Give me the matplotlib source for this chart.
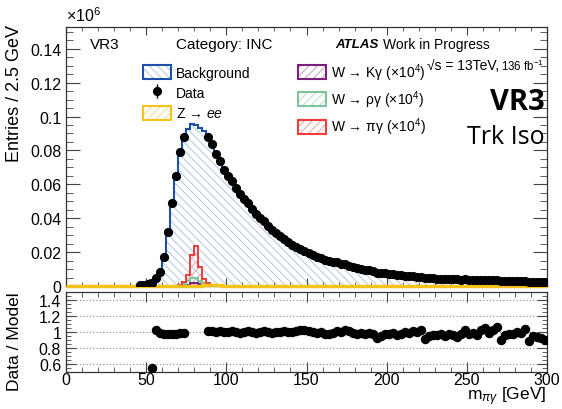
import numpy as np
import matplotlib
matplotlib.use('Agg')
import matplotlib.pyplot as plt
from matplotlib.patches import Patch
from matplotlib.ticker import MultipleLocator, FuncFormatter

plt.rcParams['font.family'] = ['Liberation Sans', 'DejaVu Sans']
plt.rcParams['mathtext.fontset'] = 'custom'
plt.rcParams['mathtext.rm'] = 'Liberation Sans'
plt.rcParams['mathtext.it'] = 'Liberation Sans:italic'
plt.rcParams['mathtext.bf'] = 'Liberation Sans:bold'
plt.rcParams['hatch.linewidth'] = 0.7

# ---------------- data (entries in units of 10^6) ----------------
bin_width = 2.5
x_min, x_max = 0.0, 300.0

model_first_centre = 53.75
background = [
    0.0033, 0.0046, 0.0081, 0.0175, 0.0330, 0.0502, 0.0663, 0.0798, 0.0889,
    0.0924, 0.0953, 0.0950, 0.0935, 0.0912,
    0.0868, 0.0827, 0.0781, 0.0730, 0.0686, 0.0648, 0.0612, 0.0578, 0.0546, 0.0514,
    0.0484, 0.0455, 0.0428, 0.0402, 0.0377, 0.0354, 0.0332, 0.0312, 0.0293, 0.0275,
    0.0258, 0.0243, 0.0229, 0.0214, 0.0203, 0.0193, 0.0184, 0.0175, 0.0167, 0.0159,
    0.0152, 0.0145, 0.0138, 0.0131, 0.0125, 0.0119, 0.0114, 0.0108, 0.0103, 0.0098,
    0.0094, 0.0089, 0.0085, 0.0081, 0.0077, 0.0073, 0.0070, 0.0067, 0.0064, 0.0061,
    0.0058, 0.0056, 0.0053, 0.0051, 0.0050, 0.0049, 0.0047, 0.0046, 0.0045, 0.0044,
    0.0043, 0.0042, 0.0041, 0.0039, 0.0038, 0.0037, 0.0036, 0.0036, 0.0035, 0.0034,
    0.0033, 0.0032, 0.0032, 0.0031, 0.0030, 0.0030, 0.0029, 0.0029, 0.0028, 0.0028,
    0.0027, 0.0027, 0.0026, 0.0026, 0.0025,
]
nan = float('nan')
data_over_model = [
    0.55, 1.03, 0.985, 0.98, 0.97, 0.975, 0.98, 0.99, 0.99,
    nan, nan, nan, nan, nan,
    1.01, 1.01, 1.00, 1.01, 1.00, 1.00, 1.01, 1.00, 0.99, 1.00,
    1.01, 1.00, 0.99, 1.00, 1.01, 1.00, 0.99, 1.00, 1.00, 1.01,
    1.00, 1.00, 1.01, 1.02, 1.03, 1.01, 1.00, 0.99, 1.00, 0.98,
    0.97, 0.99, 1.01, 1.00, 1.02, 1.01, 0.99, 0.98, 0.99, 0.97,
    0.99, 0.98, 0.93, 0.95, 0.98, 0.97, 0.99, 0.96, 0.98, 1.00,
    0.99, 1.01, 1.00, 1.03, 0.91, 0.95, 0.96, 0.96, 0.97, 0.95,
    0.97, 0.96, 0.94, 0.98, 1.02, 0.97, 0.99, 0.96, 1.02, 1.05,
    0.99, 1.03, 1.06, 0.90, 0.96, 0.98, 0.97, 1.00, 0.99, 1.04,
    0.89, 0.95, 0.94, 0.92, 0.90,
]
data_low_centres = [46.25, 48.75, 51.25]
data_low = [0.0003, 0.0006, 0.0010]

# signals (x10^4), in units of 10^6
wpi_centres = [71.25, 73.75, 76.25, 78.75, 81.25, 83.75, 86.25, 88.75, 91.25, 93.75]
wpi_values = [0.0008, 0.0022, 0.0062, 0.0180, 0.0238, 0.0115, 0.0042, 0.0016, 0.0008, 0.0004]
wrho_centres = [73.75, 76.25, 78.75, 81.25, 83.75, 86.25, 88.75, 91.25]
wrho_values = [0.0012, 0.0030, 0.0048, 0.0046, 0.0030, 0.0016, 0.0008, 0.0004]
wk_centres = [76.25, 78.75, 81.25, 83.75, 86.25]
wk_values = [0.0008, 0.0016, 0.0018, 0.0012, 0.0006]
zee_centres = [83.75, 86.25, 88.75, 91.25, 93.75, 96.25, 98.75]
zee_values = [0.0002, 0.0004, 0.0006, 0.0006, 0.0004, 0.0003, 0.0002]

# ---------------- binning ----------------
edges = np.arange(x_min, x_max + bin_width / 2, bin_width)
centres = edges[:-1] + bin_width / 2
nb = len(centres)

def to_bins(cs, vs):
    arr = np.zeros(nb)
    idx = np.round((np.asarray(cs) - bin_width / 2) / bin_width).astype(int)
    arr[idx] = vs
    return arr

i0 = int(round((model_first_centre - bin_width / 2) / bin_width))
bkg_full = np.zeros(nb)
bkg_full[i0:] = background
ratio_full = np.full(nb, np.nan)
ratio_full[i0:] = data_over_model
data_full = np.full(nb, np.nan)
data_full[i0:] = np.array(background) * np.array(data_over_model)
lo_idx = np.round((np.asarray(data_low_centres) - bin_width / 2) / bin_width).astype(int)
data_full[lo_idx] = data_low

wpi = to_bins(wpi_centres, wpi_values)
wrho = to_bins(wrho_centres, wrho_values)
wk = to_bins(wk_centres, wk_values)
zee = to_bins(zee_centres, zee_values)

# ---------------- styling ----------------
c_bkg_line = '#1c4fa8'
c_bkg_hatch = '#aec7e6'
c_zee = '#f7c21a'
c_zee_h = '#f9dc80'
c_wpi = '#f23a3a'
c_wpi_h = '#f7a0a0'
c_wrho = '#7cc49a'
c_wrho_h = '#b9e0c8'
c_wk = '#7a1f7e'
c_wk_h = '#c49ac6'
tick_col = '#444444'
bkg_hatch = '\\\\\\\\'
sig_hatch = '////'

W, H = 562, 410
fig = plt.figure(figsize=(W / 100, H / 100), dpi=100)

def fx(px):
    return px / W

def fy(py):
    return 1 - py / H

ax = fig.add_axes([fx(66), fy(287), (547 - 66) / W, (287 - 27.5) / H])
rax = fig.add_axes([fx(66), fy(373), (547 - 66) / W, (373 - 293) / H])

# background
ax.stairs(bkg_full, edges, fill=True, facecolor='none', edgecolor=c_bkg_hatch,
          hatch=bkg_hatch, linewidth=0, zorder=1)
ax.stairs(bkg_full, edges, color=c_bkg_line, linewidth=1.5, zorder=3)

# signals
for vals, lc, hc in [(wk, c_wk, c_wk_h), (wrho, c_wrho, c_wrho_h), (wpi, c_wpi, c_wpi_h)]:
    ax.stairs(vals, edges, fill=True, facecolor='none', edgecolor=hc,
              hatch=sig_hatch, linewidth=0, zorder=2)
    ax.stairs(vals, edges, color=lc, linewidth=1.4, zorder=4)
ax.stairs(zee, edges, color=c_zee, linewidth=2.5, zorder=4, baseline=None, clip_on=False)

# data
data_err = np.sqrt(np.nan_to_num(data_full) * 1e6) / 1e6
ok = ~np.isnan(data_full)
eb = ax.errorbar(centres[ok], data_full[ok], yerr=data_err[ok], fmt='o', color='black',
                 markersize=5.6, elinewidth=1.0, capsize=0, zorder=6)

ax.set_xlim(x_min, x_max)
ax.set_ylim(0, 0.1531)
ax.xaxis.set_major_locator(MultipleLocator(50))
ax.xaxis.set_minor_locator(MultipleLocator(10))
ax.yaxis.set_major_locator(MultipleLocator(0.02))
ax.yaxis.set_minor_locator(MultipleLocator(0.005))
ax.yaxis.set_major_formatter(FuncFormatter(lambda v, p: '%g' % round(v, 4)))
ax.tick_params(axis='both', which='both', direction='in', top=True, right=True,
               color=tick_col, labelsize=11.5)
ax.tick_params(axis='x', which='major', length=6, labelbottom=False)
ax.tick_params(axis='x', which='minor', length=3)
ax.tick_params(axis='y', which='major', length=10)
ax.tick_params(axis='y', which='minor', length=5)

# ratio panel
rax.plot(centres, ratio_full, 'o', color='black', markersize=5.8, zorder=5)
for g in [0.6, 0.8, 1.0, 1.2, 1.4]:
    rax.axhline(g, color='#888888', linestyle=(0, (1, 2)), linewidth=0.8, zorder=1)
rax.set_xlim(x_min, x_max)
rax.set_ylim(0.5, 1.5)
rax.xaxis.set_major_locator(MultipleLocator(50))
rax.xaxis.set_minor_locator(MultipleLocator(10))
rax.yaxis.set_major_locator(MultipleLocator(0.2))
rax.yaxis.set_minor_locator(MultipleLocator(0.05))
rax.yaxis.set_major_formatter(FuncFormatter(lambda v, p: '%g' % round(v, 3)))
rax.tick_params(axis='both', which='both', direction='in', top=True, right=True,
                color=tick_col, labelsize=11.5)
rax.tick_params(axis='x', which='major', length=7, pad=0)
rax.tick_params(axis='x', which='minor', length=3.5)
rax.tick_params(axis='y', which='major', length=7)
rax.tick_params(axis='y', which='minor', length=3.5)

for a in (ax, rax):
    for s in a.spines.values():
        s.set_color('#333333')
        s.set_linewidth(0.9)

# axis titles
fig.text(fx(66), fy(16), '×10$^{6}$', fontsize=11.5, ha='left', va='center')
fig.text(fx(15), fy(25), 'Entries / 2.5 GeV', rotation=90, fontsize=13, ha='center', va='top')
fig.text(fx(15), fy(292), 'Data / Model', rotation=90, fontsize=12.5, ha='center', va='top')
fig.text(fx(546), fy(397), r'm$_{\pi\gamma}$ [GeV]', fontsize=12.5, ha='right', va='center')

# labels inside plot
fig.text(fx(90), fy(45), 'VR3', fontsize=11, ha='left', va='center')
fig.text(fx(176), fy(45), 'Category: INC', fontsize=11, ha='left', va='center')
t_atlas = fig.text(fx(335), fy(45), 'ATLAS', fontsize=9.5, fontweight='bold', fontstyle='italic',
                   ha='left', va='center')
ax.annotate('Work in Progress', xy=(1, 0.5), xycoords=t_atlas, xytext=(3, 0),
            textcoords='offset points', fontsize=10, ha='left', va='center')
t_s = fig.text(fx(427), fy(66), '√s = 13TeV,', fontsize=10, ha='left', va='center')
ax.annotate('136 fb$^{-1}$', xy=(1, 0.5), xycoords=t_s, xytext=(1, 0),
            textcoords='offset points', fontsize=8.3, ha='left', va='center')
fig.text(fx(545), fy(102), 'VR3', fontsize=21, fontweight='bold', family='Open Sans',
         ha='right', va='center')
fig.text(fx(545), fy(138), 'Trk Iso', fontsize=18, family='Open Sans', ha='right', va='center')

# legend
def box(hatch_col, line_col, hatch):
    return (Patch(facecolor='none', edgecolor=hatch_col, hatch=hatch, linewidth=0),
            Patch(facecolor='none', edgecolor=line_col, linewidth=1.5))

handles = [box(c_bkg_hatch, c_bkg_line, bkg_hatch), eb, box(c_zee_h, c_zee, sig_hatch),
           box(c_wk_h, c_wk, sig_hatch), box(c_wrho_h, c_wrho, sig_hatch),
           box(c_wpi_h, c_wpi, sig_hatch)]
labels = ['Background', 'Data', 'Z → $ee$',
          'W → Kγ (×10$^{4}$)', 'W → ργ (×10$^{4}$)', 'W → πγ (×10$^{4}$)']
leg = ax.legend(handles, labels, ncol=2, frameon=False, fontsize=10,
                loc='upper left', bbox_to_anchor=((143 - 66) / 481, (287 - 62) / 259.5),
                handlelength=2.0, handleheight=1.15, handletextpad=0.4,
                columnspacing=3.4, labelspacing=0.42, borderpad=0, borderaxespad=0)

fig.savefig('out.png', dpi=100)
